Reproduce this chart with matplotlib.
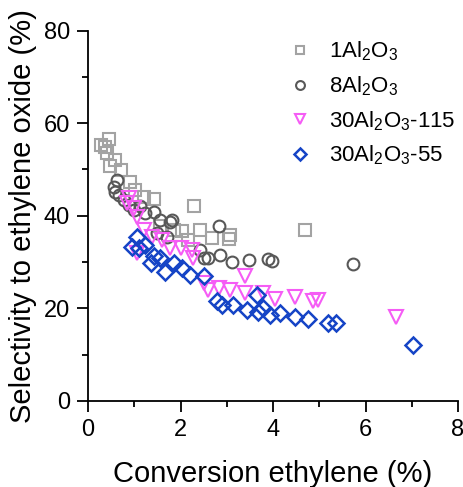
import matplotlib
matplotlib.use('Agg')
import matplotlib.pyplot as plt
from matplotlib.ticker import MultipleLocator

plt.rcParams['font.family'] = ['Liberation Sans', 'DejaVu Sans']
plt.rcParams['mathtext.fontset'] = 'custom'
plt.rcParams['mathtext.rm'] = 'Liberation Sans'
plt.rcParams['mathtext.it'] = 'Liberation Sans'

# 1Al2O3
x_1al = [0.27, 0.37, 0.41, 0.45, 0.47, 0.59, 0.71, 0.91, 1.02, 1.2, 1.42, 1.56,
         1.85, 2.03, 2.17, 2.28, 2.42, 2.68, 3.04, 3.07, 4.69]
y_1al = [55.3, 54.9, 53.5, 56.5, 50.8, 52.0, 49.9, 47.4, 45.6, 44.1, 43.6, 37.7,
         36.9, 36.6, 34.8, 42.0, 36.9, 35.1, 34.9, 35.9, 36.9]

# 8Al2O3
x_8al = [0.55, 0.59, 0.63, 0.66, 0.77, 0.88, 0.99, 1.13, 1.24, 1.42, 1.49, 1.56,
         1.71, 1.78, 1.81, 2.42, 2.5, 2.6, 2.82, 2.86, 3.11, 3.47, 3.9, 3.97, 5.72]
y_8al = [46.3, 45.2, 47.7, 44.5, 43.4, 42.3, 41.3, 42.0, 40.5, 40.9, 36.2, 39.1,
         35.5, 38.7, 39.1, 32.6, 30.8, 30.8, 37.8, 31.5, 30.1, 30.5, 30.6, 30.3, 29.5]

# 30Al2O3-115
x_115 = [0.84, 0.88, 0.99, 1.06, 1.06, 1.2, 1.38, 1.6, 1.78, 2.0, 2.24, 2.27,
         2.5, 2.6, 2.82, 3.07, 3.4, 3.4, 3.79, 4.04, 4.47, 4.86, 4.97, 6.67]
y_115 = [42.7, 43.8, 41.6, 39.8, 31.9, 36.9, 35.5, 34.8, 33.0, 33.0, 32.6, 30.8,
         25.4, 24.0, 24.3, 24.0, 26.9, 23.4, 23.3, 22.0, 22.5, 21.5, 21.8, 18.2]

# 30Al2O3-55
x_55 = [0.95, 1.06, 1.09, 1.24, 1.35, 1.42, 1.56, 1.67, 1.85, 2.03, 2.21, 2.5,
        2.78, 2.89, 3.14, 3.43, 3.65, 3.68, 3.79, 3.94, 4.15, 4.47, 4.76, 5.19,
        5.37, 7.03]
y_55 = [33.3, 35.5, 33.0, 33.7, 29.7, 31.2, 30.8, 27.9, 29.7, 28.7, 27.2, 26.9,
        21.5, 20.7, 20.7, 19.7, 22.9, 19.3, 20.0, 18.6, 18.9, 18.2, 17.6, 16.8,
        16.8, 12.1]

fig = plt.figure(figsize=(4.64, 4.87), dpi=100)
ax = fig.add_axes([0.19, 0.177, 0.797, 0.76])

mew = 1.5
ax.plot(x_1al, y_1al, 's', ms=8, mfc='none', mec='#a3a3a3', mew=mew, label='1Al$_2$O$_3$')
ax.plot(x_8al, y_8al, 'o', ms=8.5, mfc='none', mec='#585858', mew=mew, label='8Al$_2$O$_3$')
ax.plot(x_115, y_115, 'v', ms=10, mfc='none', mec='#f55cf5', mew=mew, label='30Al$_2$O$_3$-115')
ax.plot(x_55, y_55, 'D', ms=8.5, mfc='none', mec='#1544c6', mew=1.8, label='30Al$_2$O$_3$-55')

ax.set_xlim(0, 8)
ax.set_ylim(0, 80)
ax.xaxis.set_major_locator(MultipleLocator(2))
ax.xaxis.set_minor_locator(MultipleLocator(1))
ax.yaxis.set_major_locator(MultipleLocator(20))
ax.yaxis.set_minor_locator(MultipleLocator(10))
ax.spines['top'].set_visible(False)
ax.spines['right'].set_visible(False)
ax.spines['left'].set_linewidth(1.3)
ax.spines['bottom'].set_linewidth(1.3)
ax.tick_params(which='major', direction='out', length=8, width=1.3, labelsize=17, pad=5)
ax.tick_params(which='minor', direction='out', length=4.5, width=1.3)

ax.set_xlabel('Conversion ethylene (%)', fontsize=21, labelpad=14)
ax.set_ylabel('Selectivity to ethylene oxide (%)', fontsize=21, labelpad=5)

ax.legend(loc='upper left', bbox_to_anchor=(0.49, 1.0), frameon=False, fontsize=16,
          markerscale=0.75, handletextpad=0.3, labelspacing=0.5, borderaxespad=0)

plt.savefig('out.png', dpi=100)
